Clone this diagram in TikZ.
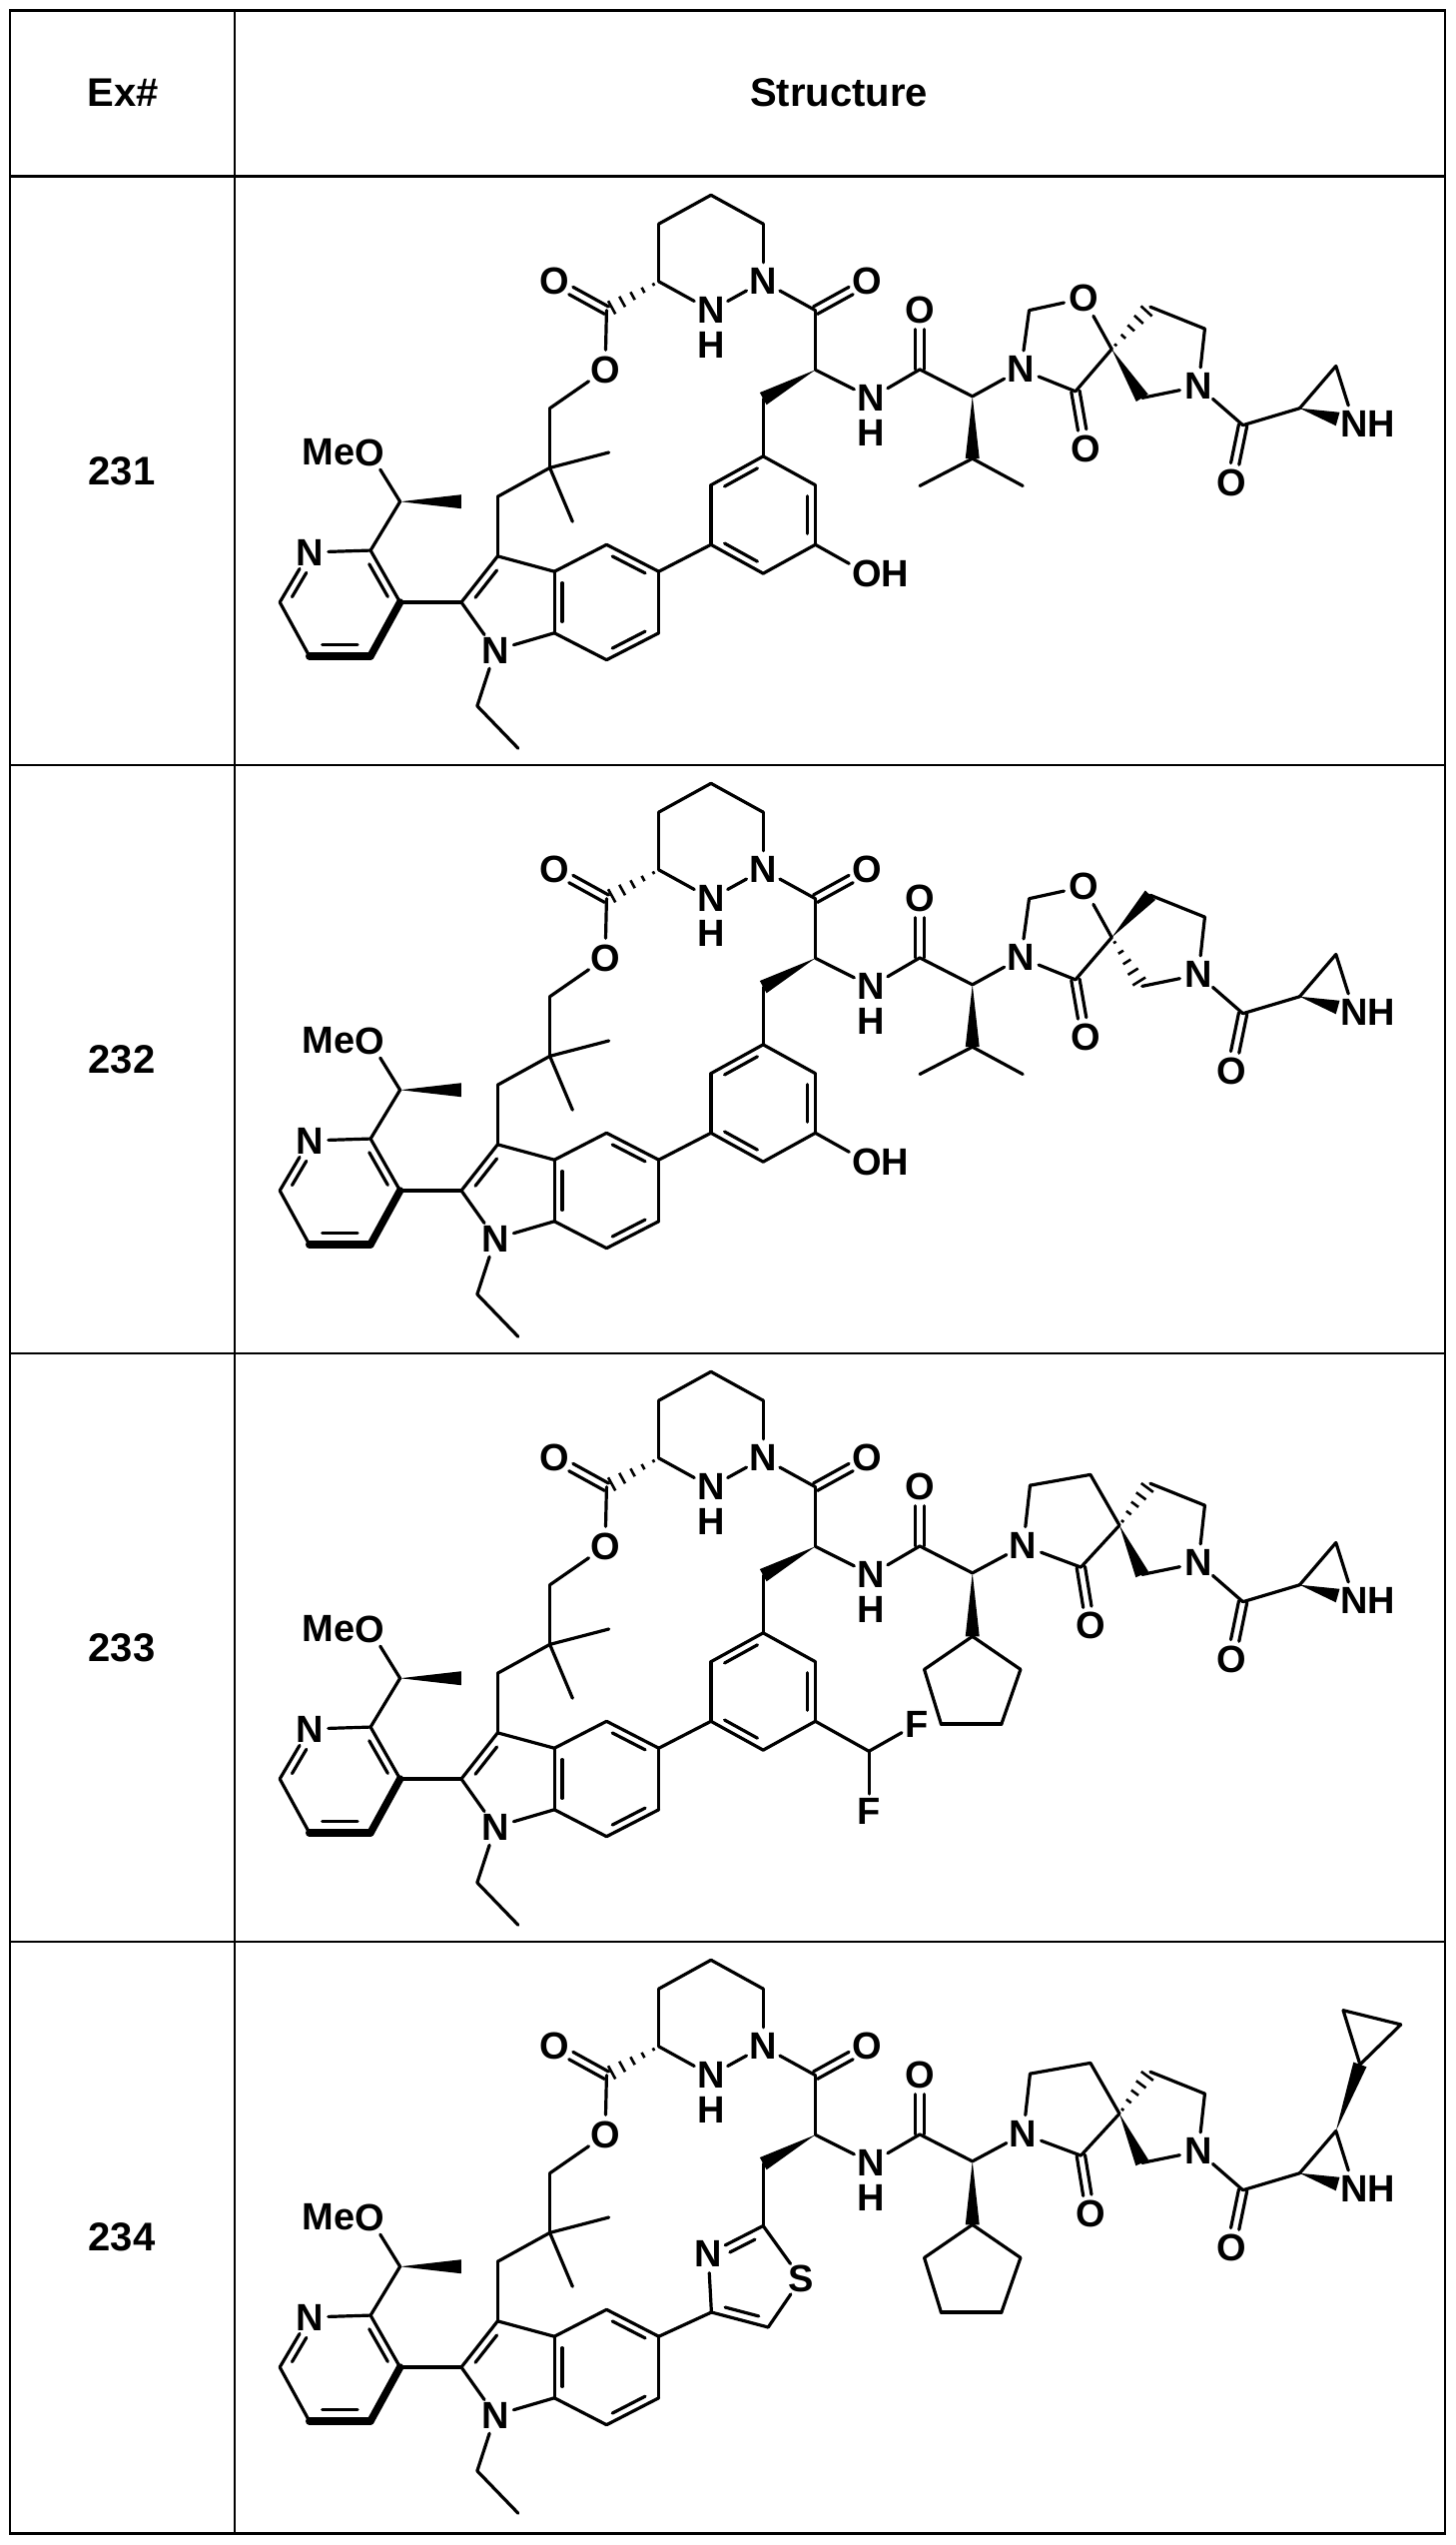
\documentclass[tikz,border=0pt]{standalone}
\usepackage{fontspec}
\setmainfont{Liberation Sans}
\usetikzlibrary{calc}
\tikzset{
  bond/.style={line width=3.2pt, line cap=round},
  boldb/.style={line width=7.5pt, line cap=round},
  atom/.style={circle, inner sep=0pt, minimum size=34pt, font=\fontsize{38}{40}\selectfont\bfseries},
  lbl/.style={inner sep=0pt, font=\fontsize{38}{40}\selectfont\bfseries},
  hdr/.style={inner sep=0pt, font=\fontsize{40}{44}\selectfont\bfseries},
  grid/.style={line width=2.8pt}
}
\newcommand\bnd[2]{\draw[bond] (#1) -- (#2);}
\newcommand\dbO[2]{%
  \draw[bond] ($(#1)!4.2pt!90:(#2)$) -- ($(#2)!19pt!(#1)!4.2pt!-90:(#1)$);
  \draw[bond] ($(#1)!4.2pt!-90:(#2)$) -- ($(#2)!19pt!(#1)!4.2pt!90:(#1)$);}
\newcommand\rdb[6]{%
  \draw[bond] (#1) -- (#2);
  \coordinate (tmpa) at ($(#1)!#5!(#2)$);
  \coordinate (tmpb) at ($(#1)!#6!(#2)$);
  \draw[bond] ($(#3)!#4!(tmpa)$) -- ($(#3)!#4!(tmpb)$);}
\newcommand\wedgeb[2]{\fill ($(#1)$) -- ($(#2)!7pt!90:(#1)$) -- ($(#2)!7pt!-90:(#1)$) -- cycle;}
\newcommand\hashb[2]{%
  \foreach \t/\w in {0.1/1.5pt,0.3/3pt,0.5/4.5pt,0.7/6pt,0.9/7.5pt}
    {\draw[line width=2.6pt] ($(#1)!\t!(#2)!\w!90:(#2)$) -- ($(#1)!\t!(#2)!\w!-90:(#2)$);}}
\newcommand\Hbelow[1]{\node[lbl] at ([yshift=-35pt]#1.center) {H};}
%
\newcommand\corepart{%
  % pyridine
  \node[atom] (pyN) at (160,975) {N};
  \coordinate (py2) at (295,970);
  \coordinate (py3) at (360,1105);
  \coordinate (py4) at (295,1245);
  \coordinate (py5) at (160,1245);
  \coordinate (py6) at (95,1105);
  \coordinate (pyc) at (227.5,1107.5);
  \bnd{pyN}{py2}
  \rdb{py2}{py3}{pyc}{0.85}{0.13}{0.87}
  \draw[boldb] (py3) -- (py4);
  \draw[boldb] (py4) -- (py5);
  \coordinate (tmpa) at ($(py4)!0.13!(py5)$);
  \coordinate (tmpb) at ($(py4)!0.87!(py5)$);
  \draw[bond] ($(pyc)!0.78!(tmpa)$) -- ($(pyc)!0.78!(tmpb)$);
  \bnd{py5}{py6}
  \rdb{py6}{pyN}{pyc}{0.85}{0.13}{0.7}
  % methoxyethyl
  \coordinate (mc) at (360,843);
  \node[atom] (mo) at (293,715) {O};
  \node[lbl, anchor=east] (me) at ([xshift=-14.5pt]mo.center) {Me};
  \coordinate (mme) at (495,843);
  \bnd{py2}{mc}
  \bnd{mc}{mo}
  \wedgeb{mc}{mme}
  % indole
  \coordinate (in2) at (495,1105);
  \coordinate (in3) at (575,985);
  \coordinate (in3a) at (700,1025);
  \coordinate (in7a) at (700,1185);
  \node[atom] (inN) at (570,1230) {N};
  \coordinate (in4) at (815,955);
  \coordinate (in5) at (930,1025);
  \coordinate (in6) at (930,1185);
  \coordinate (in7) at (815,1255);
  \coordinate (inc5) at (608,1106);
  \coordinate (inc6) at (815,1105);
  \bnd{py3}{in2}
  \rdb{in2}{in3}{inc5}{0.8}{0.13}{0.87}
  \bnd{in3}{in3a}
  \rdb{in3a}{in7a}{inc6}{0.85}{0.13}{0.87}
  \bnd{in7a}{inN}
  \bnd{inN}{in2}
  \bnd{in3a}{in4}
  \rdb{in4}{in5}{inc6}{0.85}{0.13}{0.87}
  \bnd{in5}{in6}
  \rdb{in6}{in7}{inc6}{0.85}{0.13}{0.87}
  \bnd{in7}{in7a}
  \coordinate (et1) at (530,1375);
  \coordinate (et2) at (620,1485);
  \bnd{inN}{et1}
  \bnd{et1}{et2}
  % chain to ester
  \coordinate (c1) at (575,830);
  \coordinate (cq) at (690,755);
  \coordinate (me1) at (820,715);
  \coordinate (me2) at (740,895);
  \coordinate (c2) at (690,600);
  \node[atom] (Oe) at (812,500) {O};
  \coordinate (cc) at (815,345);
  \node[atom] (Oc) at (700,270) {O};
  \coordinate (pz1) at (930,270);
  \bnd{in3}{c1}
  \bnd{c1}{cq}
  \bnd{cq}{me1}
  \bnd{cq}{me2}
  \bnd{cq}{c2}
  \bnd{c2}{Oe}
  \bnd{Oe}{cc}
  \dbO{cc}{Oc}
  \hashb{pz1}{cc}
  % pyridazine
  \coordinate (pz2) at (930,120);
  \coordinate (pz3) at (1045,45);
  \coordinate (pz4) at (1160,120);
  \node[atom] (pzN2) at (1160,270) {N};
  \node[atom] (pzN1) at (1045,345) {N};
  \Hbelow{pzN1}
  \bnd{pz1}{pz2}
  \bnd{pz2}{pz3}
  \bnd{pz3}{pz4}
  \bnd{pz4}{pzN2}
  \bnd{pzN2}{pzN1}
  \bnd{pzN1}{pz1}
  % amide
  \coordinate (ac1) at (1275,345);
  \node[atom] (Oa) at (1390,270) {O};
  \coordinate (aa) at (1275,500);
  \coordinate (ch2) at (1160,575);
  \bnd{pzN2}{ac1}
  \dbO{ac1}{Oa}
  \bnd{ac1}{aa}
  \wedgeb{aa}{ch2}
  \node[atom] (nh) at (1398,573) {N};
  \Hbelow{nh}
  \coordinate (cb) at (1505,499);
  \node[atom] (Ob) at (1505,345) {O};
  \coordinate (av) at (1621,569);
  \bnd{aa}{nh}
  \bnd{nh}{cb}
  \dbO{cb}{Ob}
  \bnd{cb}{av}
}
\newcommand\rightpart{%
  \coordinate (pa) at (2013,336);
  \coordinate (pb) at (2133,393);
  \node[atom] (Np) at (2119,543) {N};
  \coordinate (pc) at (1995,573);
  \coordinate (am) at (2217,644);
  \node[atom] (Oam) at (2191,793) {O};
  \coordinate (az1) at (2342,600);
  \coordinate (az2) at (2422,490);
  \node[atom] (azN) at (2462,640) {N};
  \node[lbl, anchor=west] at ([xshift=13.7pt]azN.center) {H};
  \bnd{pa}{pb}
  \bnd{pb}{Np}
  \bnd{pc}{Np}
  \bnd{Np}{am}
  \dbO{am}{Oam}
  \bnd{am}{az1}
  \bnd{az1}{az2}
  \bnd{az2}{azN}
  \coordinate (azw) at ($(azN)!17pt!(az1)$);
  \wedgeb{az1}{azw}
}
\newcommand\arylpart{%
  \coordinate (ar1) at (1160,725);
  \coordinate (ar2) at (1275,800);
  \coordinate (ar3) at (1275,955);
  \coordinate (ar4) at (1160,1030);
  \coordinate (ar5) at (1045,955);
  \coordinate (ar6) at (1045,800);
  \coordinate (arc) at (1160,877.5);
  \bnd{ch2}{ar1}
  \rdb{ar6}{ar1}{arc}{0.85}{0.13}{0.87}
  \bnd{ar1}{ar2}
  \rdb{ar2}{ar3}{arc}{0.85}{0.13}{0.87}
  \bnd{ar3}{ar4}
  \rdb{ar4}{ar5}{arc}{0.85}{0.13}{0.87}
  \bnd{ar5}{ar6}
  \bnd{ar5}{in5}
}
\newcommand\ohpart{%
  \node[atom] (oh) at (1388,1030) {O};
  \node[lbl, anchor=west] at ([xshift=14.8pt]oh.center) {H};
  \bnd{ar3}{oh}
}
\newcommand\iprpart{%
  \coordinate (ip) at (1621,731);
  \coordinate (ipa) at (1505,802);
  \coordinate (ipb) at (1732,802);
  \wedgeb{av}{ip}
  \bnd{ip}{ipa}
  \bnd{ip}{ipb}
}
\newcommand\cpentpart{%
  \coordinate (cp1) at (1621,734);
  \coordinate (cp2) at (1727,820);
  \coordinate (cp3) at (1685,962);
  \coordinate (cp4) at (1552,962);
  \coordinate (cp5) at (1515,820);
  \wedgeb{av}{cp1}
  \bnd{cp1}{cp2}
  \bnd{cp2}{cp3}
  \bnd{cp3}{cp4}
  \bnd{cp4}{cp5}
  \bnd{cp5}{cp1}
}
\newcommand\oxpart{%
  \node[atom] (Nx) at (1728,499) {N};
  \coordinate (ox1) at (1746,345);
  \node[atom] (Ox) at (1866,314) {O};
  \coordinate (sp) at (1928,446);
  \coordinate (oxc) at (1848,556);
  \node[atom] (Oxo) at (1870,705) {O};
  \bnd{av}{Nx}
  \bnd{Nx}{ox1}
  \bnd{ox1}{Ox}
  \bnd{Ox}{sp}
  \bnd{Nx}{oxc}
  \dbO{oxc}{Oxo}
  \bnd{oxc}{sp}
}
\newcommand\lactampart{%
  \node[atom] (Nx) at (1733,498) {N};
  \coordinate (r1) at (1748,341);
  \coordinate (r2) at (1881,313);
  \coordinate (sp) at (1945,445);
  \coordinate (oxc) at (1860,554);
  \node[atom] (Oxo) at (1881,706) {O};
  \bnd{av}{Nx}
  \bnd{Nx}{r1}
  \bnd{r1}{r2}
  \bnd{r2}{sp}
  \bnd{Nx}{oxc}
  \dbO{oxc}{Oxo}
  \bnd{oxc}{sp}
}
\newcommand\spiroA{\hashb{sp}{pa}\wedgeb{sp}{pc}}
\newcommand\spiroB{\wedgeb{sp}{pa}\hashb{sp}{pc}}
\begin{document}
\begin{tikzpicture}[x=1pt,y=-1pt]
\useasboundingbox (0,0) rectangle (1457,2548);
\fill[white] (0,0) rectangle (1457,2548);
% table
\draw[grid] (10,10.7) rectangle (1447,2536.5);
\draw[grid] (235,10.7) -- (235,2536.5);
\foreach \yy in {176.7,766,1355,1944} {\draw[grid] (10,\yy) -- (1447,\yy);}
\node[hdr] (hex) at (123,93) {Ex\#};
\node[hdr] (hst) at (840,93) {Structure};
\node[hdr] (n231) at (122,471.5) {231};
\node[hdr] (n232) at (122,1060.5) {232};
\node[hdr] (n233) at (122,1649.5) {233};
\node[hdr] (n234) at (122,2240) {234};
% row 231
\begin{scope}[shift={(237,178)}]
\begin{scope}[x=0.4545pt,y=-0.3846pt]
\corepart \arylpart \ohpart \iprpart \oxpart \rightpart \spiroA
\end{scope}
\end{scope}
% row 232
\begin{scope}[shift={(237,767)}]
\begin{scope}[x=0.4545pt,y=-0.3846pt]
\corepart \arylpart \ohpart \iprpart \oxpart \rightpart \spiroB
\end{scope}
\end{scope}
% row 233
\begin{scope}[shift={(237,1356)}]
\begin{scope}[x=0.4545pt,y=-0.3846pt]
\corepart \arylpart
\coordinate (cf) at (1393,1033);
\node[atom] (F1) at (1499,962) {F};
\node[atom] (F2) at (1393,1190) {F};
\bnd{ar3}{cf}
\bnd{cf}{F1}
\bnd{cf}{F2}
\cpentpart \lactampart \rightpart \spiroA
\end{scope}
\end{scope}
% row 234
\begin{scope}[shift={(237,1945)}]
\begin{scope}[x=0.4545pt,y=-0.3846pt]
\corepart
\coordinate (tC2) at (1160,737);
\node[atom] (tS) at (1244,875) {S};
\coordinate (tC5) at (1171,1001);
\coordinate (tC4) at (1046,962);
\node[atom] (tN) at (1039,810) {N};
\coordinate (tcen) at (1132,877);
\bnd{ch2}{tC2}
\rdb{tN}{tC2}{tcen}{0.8}{0.3}{0.87}
\bnd{tC2}{tS}
\bnd{tS}{tC5}
\rdb{tC5}{tC4}{tcen}{0.8}{0.13}{0.87}
\bnd{tC4}{tN}
\bnd{tC4}{in5}
\cpentpart \lactampart \rightpart \spiroA
\coordinate (cy1) at (2475,317);
\coordinate (cy2) at (2438,176);
\coordinate (cy3) at (2565,213);
\wedgeb{az2}{cy1}
\bnd{cy1}{cy2}
\bnd{cy2}{cy3}
\bnd{cy3}{cy1}
\end{scope}
\end{scope}
\end{tikzpicture}
\end{document}
